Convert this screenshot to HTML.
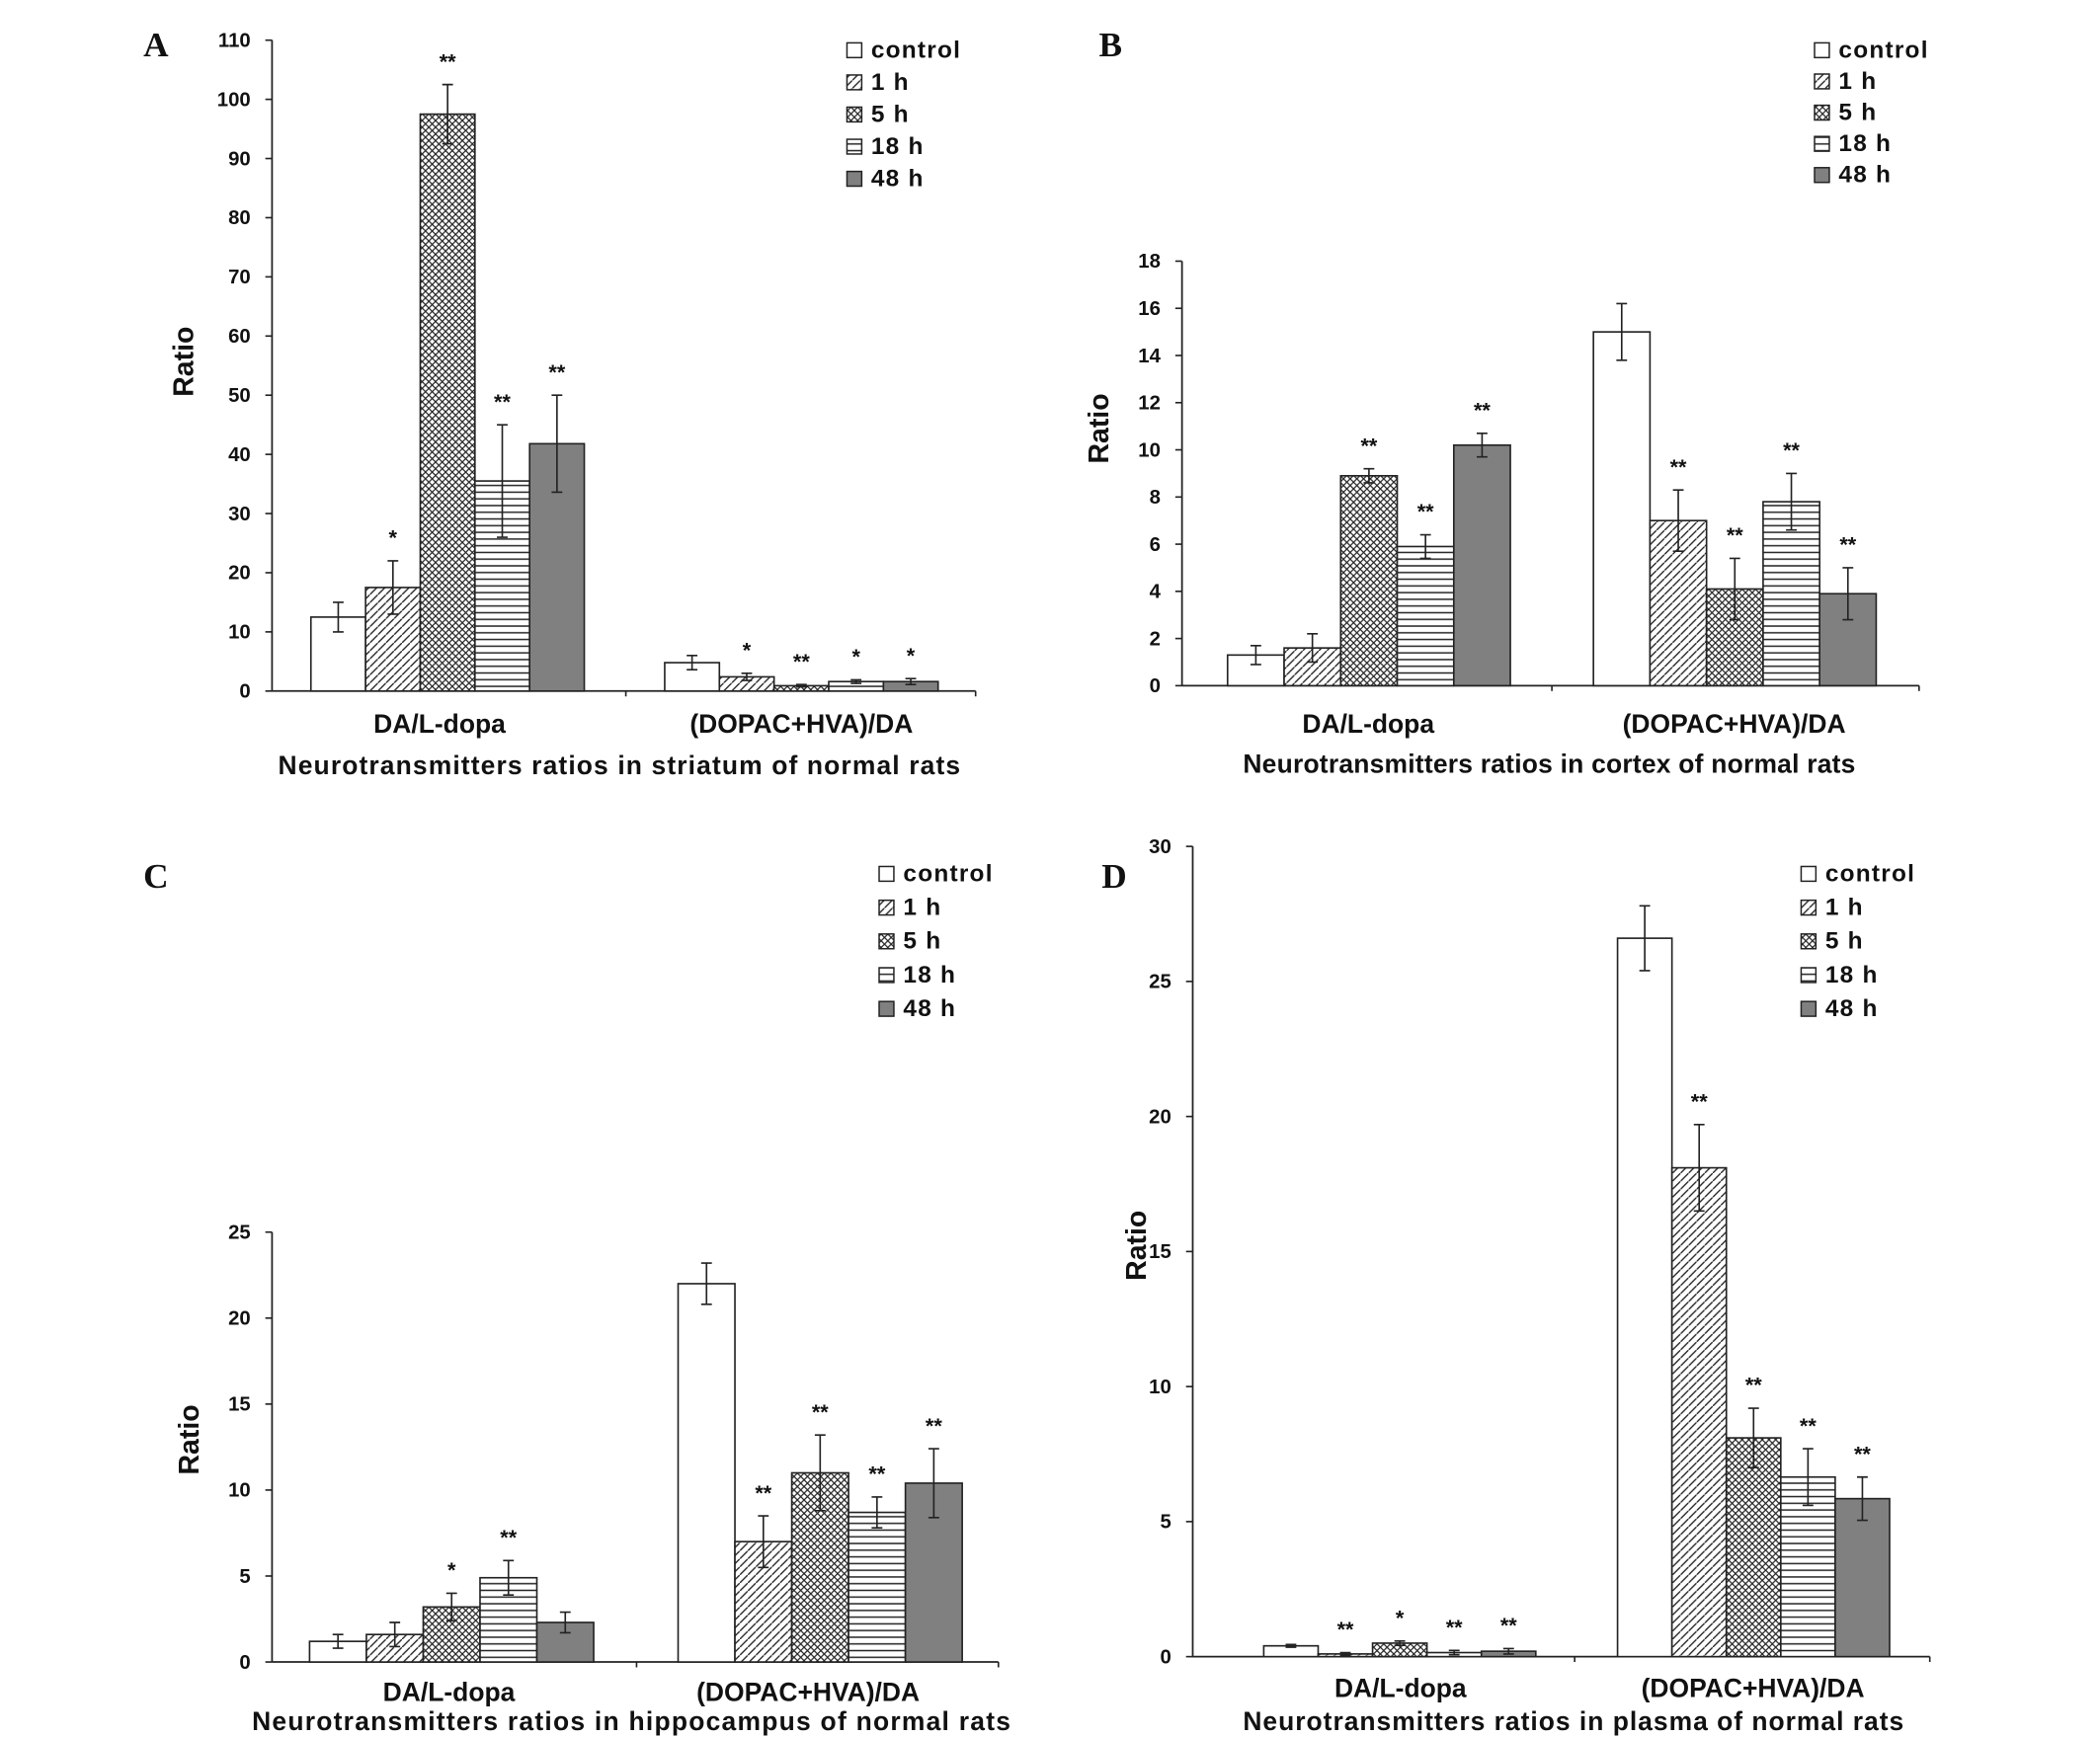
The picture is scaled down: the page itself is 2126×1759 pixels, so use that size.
<!DOCTYPE html>
<html><head><meta charset="utf-8"><style>
html,body{margin:0;padding:0;background:#fff}
svg{display:block}
text{font-family:"Liberation Sans",Arial,sans-serif;font-weight:bold;fill:#111}
</style></head><body>
<svg id="fig" width="2126" height="1759" viewBox="0 0 1567 1297" preserveAspectRatio="none" xmlns="http://www.w3.org/2000/svg">
<defs>
<pattern id="p1" patternUnits="userSpaceOnUse" width="6" height="6"><rect width="6" height="6" fill="#fff"/><path d="M-1,7 L7,-1" stroke="#222" stroke-width="1"/></pattern>
<pattern id="p5" patternUnits="userSpaceOnUse" width="5" height="5"><rect width="5" height="5" fill="#fff"/><path d="M0,0 L5,5 M5,0 L0,5" stroke="#222" stroke-width="0.9"/></pattern>
<pattern id="p18" patternUnits="userSpaceOnUse" width="6" height="5"><rect width="6" height="5" fill="#fff"/><path d="M0,2.5 L6,2.5" stroke="#222" stroke-width="1.1"/></pattern>
</defs>
</svg>
<script>
const seriesNames = ["control","1 h","5 h","18 h","48 h"];
const categories = ["DA/L-dopa","(DOPAC+HVA)/DA"];
const fills = ["#fff","url(#p1)","url(#p5)","url(#p18)","#808080"];

const aG1 = [12.5,17.5,97.5,35.5,41.8], aE1 = [2.5,4.5,5,9.5,8.2], aS1 = ["","*","**","**","**"];
const aG2 = [4.8,2.4,0.9,1.6,1.6], aE2 = [1.2,0.6,0.2,0.3,0.5], aS2 = ["","*","**","*","*"];
const aTicks = [0,10,20,30,40,50,60,70,80,90,100,110];

const bG1 = [1.3,1.6,8.9,5.9,10.2], bE1 = [0.4,0.6,0.3,0.5,0.5], bS1 = ["","","**","**","**"];
const bG2 = [15.0,7.0,4.1,7.8,3.9], bE2 = [1.2,1.3,1.3,1.2,1.1], bS2 = ["","**","**","**","**"];
const bTicks = [0,2,4,6,8,10,12,14,16,18];

const cG1 = [1.2,1.6,3.2,4.9,2.3], cE1 = [0.4,0.7,0.8,1.0,0.6], cS1 = ["","","*","**",""];
const cG2 = [22.0,7.0,11.0,8.7,10.4], cE2 = [1.2,1.5,2.2,0.9,2.0], cS2 = ["","**","**","**","**"];
const cTicks = [0,5,10,15,20,25];

const dG1 = [0.4,0.1,0.5,0.15,0.2], dE1 = [0.05,0.05,0.08,0.08,0.1], dS1 = ["","**","*","**","**"];
const dG2 = [26.6,18.1,8.1,6.65,5.85], dE2 = [1.2,1.6,1.1,1.05,0.8], dS2 = ["","**","**","**","**"];
const dTicks = [0,5,10,15,20,25,30];

const svg = document.getElementById('fig');
const NS = "http://www.w3.org/2000/svg";
function mk(tag, attrs, parent, txt){
  const e = document.createElementNS(NS, tag);
  for (const k in attrs) e.setAttribute(k, attrs[k]);
  if (txt !== undefined) e.textContent = txt;
  (parent || svg).appendChild(e);
  return e;
}

function panel(cfg){
  const g = mk('g', {});
  
  
  const max = cfg.ticks[cfg.ticks.length-1];
  const y = v => cfg.y0 - (v / max) * (cfg.y0 - cfg.yTop);
  const L = mk('text', {x:cfg.lx, y:cfg.ly, 'font-size':26, style:'font-family:"Liberation Serif",serif;font-weight:bold'}, g, cfg.letter);
  
  
  const ya = mk('line', {x1:cfg.ax, x2:cfg.ax, y1:cfg.yTop, y2:cfg.y0, stroke:'#222', 'stroke-width':1.3}, g);
  
  
  const xa = mk('line', {x1:cfg.ax, x2:cfg.axEnd, y1:cfg.y0, y2:cfg.y0, stroke:'#222', 'stroke-width':1.3}, g);
  
  
  [cfg.mid, cfg.axEnd].forEach(xx => mk('line', {x1:xx, x2:xx, y1:cfg.y0, y2:cfg.y0+4, stroke:'#222','stroke-width':1.2}, g));
  cfg.ticks.forEach(t => {
    mk('line', {x1:cfg.ax-5, x2:cfg.ax, y1:y(t), y2:y(t), stroke:'#222','stroke-width':1.2}, g);
    const tl = mk('text', {x:cfg.ax-16, y:y(t)+5, 'font-size':15, 'text-anchor':'end'}, g, t);
    
    
  });
  const yt = mk('text', {x:0, y:0, 'font-size':21, 'text-anchor':'middle', transform:`translate(${cfg.rx},${cfg.ry}) rotate(-90)`}, g, 'Ratio');
  
  
  const groups = [[cfg.v1,cfg.e1,cfg.s1,cfg.g1x],[cfg.v2,cfg.e2,cfg.s2,cfg.g2x]];
  groups.forEach((gr, gi) => {
    const [vals, errs, stars, x0] = gr;
    vals.forEach((v, i) => {
      const bx = x0 + i * cfg.bw;
      const r = mk('rect', {x:bx, y:y(v), width:cfg.bw, height:cfg.y0 - y(v), fill:fills[i], stroke:'#222', 'stroke-width':1.2}, g);
      
      
      const cx = bx + cfg.bw/2, hi = y(v + errs[i]), lo = y(Math.max(0, v - errs[i]));
      const eb = mk('path', {d:`M${cx},${hi}V${lo}M${cx-4},${hi}H${cx+4}M${cx-4},${lo}H${cx+4}`, stroke:'#222', 'stroke-width':1.2, fill:'none'}, g);
      
      
      if (stars[i]) {
        const st = mk('text', {x:cx, y:hi - 12, 'font-size':16, 'text-anchor':'middle'}, g, stars[i]);
        
        
      }
    });
    const cl = mk('text', {x:cfg.catX[gi], y:cfg.labY, 'font-size':19.5, 'text-anchor':'middle'}, g, categories[gi]);
    
    
  });
  const cap = mk('text', {x:cfg.capX, y:cfg.capY, 'font-size':19.5, 'text-anchor':'middle', textLength:cfg.capW, lengthAdjust:'spacing'}, g, cfg.caption);
  
  
  seriesNames.forEach((n, i) => {
    const ly = cfg.legY + i * cfg.legStep;
    const lg = mk('g', {}, g);
    
    
    mk('rect', {x:cfg.legX, y:ly-11, width:11, height:11, fill:fills[i], stroke:'#222', 'stroke-width':1.1}, lg);
    mk('text', {x:cfg.legX+18, y:ly, 'font-size':18, 'letter-spacing':0.9}, lg, n);
  });
}

panel({letter:'A', lx:107, ly:42, ax:203, axEnd:728, mid:467, y0:516, yTop:30, ticks:aTicks,
  v1:aG1,e1:aE1,s1:aS1,v2:aG2,e2:aE2,s2:aS2, g1x:232, g2x:496, bw:40.8,
  rx:144, ry:270, labY:547, catX:[328,598], capX:462, capY:578, capW:509, caption:'Neurotransmitters ratios in striatum of normal rats',
  legX:632, legY:43, legStep:24});
panel({letter:'B', lx:820, ly:42, ax:882, axEnd:1432, mid:1158, y0:512, yTop:195, ticks:bTicks,
  v1:bG1,e1:bE1,s1:bS1,v2:bG2,e2:bE2,s2:bS2, g1x:916, g2x:1189, bw:42.2,
  rx:827, ry:320, labY:547, catX:[1021,1294], capX:1156, capY:577, capW:457, caption:'Neurotransmitters ratios in cortex of normal rats',
  legX:1354, legY:43, legStep:23.3});
panel({letter:'C', lx:107, ly:663, ax:203, axEnd:745, mid:475, y0:1241, yTop:920, ticks:cTicks,
  v1:cG1,e1:cE1,s1:cS1,v2:cG2,e2:cE2,s2:cS2, g1x:231, g2x:506, bw:42.4,
  rx:148, ry:1075, labY:1270, catX:[335,603], capX:471, capY:1292, capW:566, caption:'Neurotransmitters ratios in hippocampus of normal rats',
  legX:656, legY:658, legStep:25.2});
panel({letter:'D', lx:822, ly:663, ax:890, axEnd:1440, mid:1175, y0:1237, yTop:632, ticks:dTicks,
  v1:dG1,e1:dE1,s1:dS1,v2:dG2,e2:dE2,s2:dS2, g1x:943, g2x:1207, bw:40.6,
  rx:855, ry:930, labY:1267, catX:[1045,1308], capX:1174, capY:1292, capW:493, caption:'Neurotransmitters ratios in plasma of normal rats',
  legX:1344, legY:658, legStep:25.2});
</script>
</body></html>
